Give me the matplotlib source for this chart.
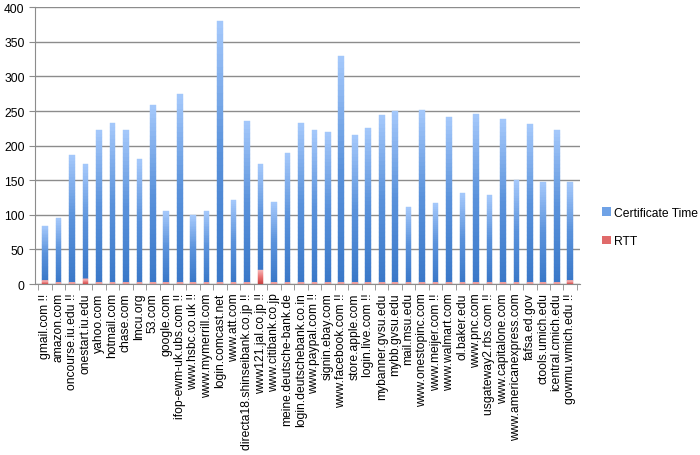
import numpy as np
import matplotlib
matplotlib.use("Agg")
import matplotlib.pyplot as plt
from matplotlib.colors import LinearSegmentedColormap
from matplotlib.patches import Patch

sites = ["gmail.com !!", "amazon.com", "oncourse.iu.edu !!", "onestart.iu.edu",
         "yahoo.com", "hotmail.com", "chase.com", "lmcu.org", "53.com", "google.com",
         "ifop-ewm-uk.ubs.com !!", "www.hsbc.co.uk !!", "www.mymerrill.com",
         "login.comcast.net", "www.att.com", "directa18.shinseibank.co.jp !!",
         "www121.jal.co.jp !!", "www.citibank.co.jp", "meine.deutsche-bank.de",
         "login.deutschebank.co.in", "www.paypal.com !!", "signin.ebay.com",
         "www.facebook.com !!", "store.apple.com", "login.live.com !!",
         "mybanner.gvsu.edu", "mybb.gvsu.edu", "mail.msu.edu", "www.onestopinc.com",
         "www.meijer.com !!", "www.walmart.com", "ol.baker.edu", "www.pnc.com",
         "usgateway2.rbs.com !!", "www.capitalone.com", "www.americanexpress.com",
         "fafsa.ed.gov", "ctools.umich.edu", "icentral.cmich.edu", "gowmu.wmich.edu !!"]

rtt = [5, 2, 2, 7, 2, 2, 2, 2, 2, 2,
       2, 2, 2, 2, 2, 2, 20, 2, 2, 2,
       2, 2, 2, 2, 2, 2, 2, 2, 2, 2,
       2, 2, 2, 2, 2, 2, 2, 2, 2, 5]

# total bar height
totals = [84, 95, 187, 173, 223, 233, 222, 180, 259, 105,
          274, 99, 105, 380, 122, 235, 173, 118, 189, 233,
          222, 219, 329, 215, 226, 244, 250, 111, 252, 117,
          241, 131, 246, 128, 238, 150, 231, 147, 223, 147]
cert_time = [t - r for t, r in zip(totals, rtt)]

plt.rcParams['font.family'] = ['Liberation Sans', 'DejaVu Sans']
fs = 8.7

blue_cm = LinearSegmentedColormap.from_list("b", ["#3a78c8", "#5a92db", "#a3c7fa"])
red_cm = LinearSegmentedColormap.from_list("r", ["#c83c3c", "#e87070", "#f4aeae"])

fig = plt.figure(figsize=(7, 4.56), dpi=100)
ax = fig.add_axes([0.05, 0.375, 0.779, 0.607])

x = np.arange(len(sites))
w = 0.42
rtt_a = np.array(rtt, float)
cert_a = np.array(cert_time, float)

# excel-style vertical gradient: stack thin slices of each bar
n = 40
for k in range(n):
    c = blue_cm(k / (n - 1))
    ax.bar(x, cert_a / n, w, bottom=rtt_a + cert_a * k / n,
           color=c, edgecolor=c, linewidth=0.3, zorder=2)
    c = red_cm(k / (n - 1))
    ax.bar(x, rtt_a / n, w, bottom=rtt_a * k / n,
           color=c, edgecolor=c, linewidth=0.3, zorder=2)

ax.set_xlim(-0.75, len(sites) - 0.25)
ax.set_ylim(0, 400)
ax.set_yticks(range(0, 401, 50))
ax.grid(axis="y", color="#8c8c8c", linewidth=1)
ax.set_axisbelow(True)

ax.set_xticks(x)
ax.set_xticklabels(sites, rotation=90, fontsize=fs)
ax.tick_params(axis="x", length=0, pad=6)
ax.set_xticks(np.arange(-0.5, len(sites)), minor=True)
ax.tick_params(axis="x", which="minor", length=4, color="#8c8c8c")
ax.tick_params(axis="y", labelsize=fs, length=4, color="#8c8c8c")

for s in ("top", "right"):
    ax.spines[s].set_visible(False)
for s in ("left", "bottom"):
    ax.spines[s].set_color("#8c8c8c")

handles = [Patch(facecolor="#6fa2e6", label="Certificate Time"),
           Patch(facecolor="#e06a6a", label="RTT")]
fig.legend(handles=handles, loc="center left", bbox_to_anchor=(0.845, 0.5),
           frameon=False, fontsize=fs, handlelength=0.7, handleheight=0.7,
           handletextpad=0.3, labelspacing=1.4)

fig.savefig("out.png", dpi=100)
